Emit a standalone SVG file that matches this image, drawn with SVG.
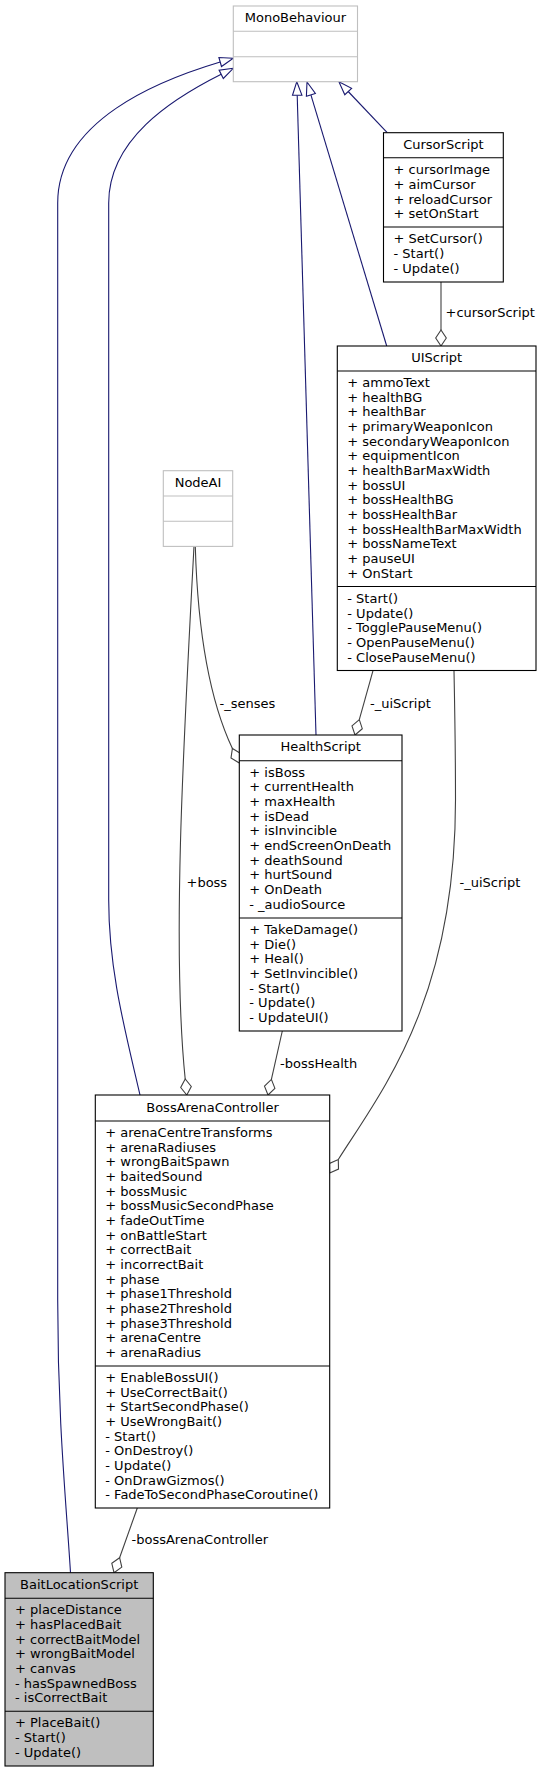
<svg xmlns="http://www.w3.org/2000/svg" width="541" height="1772" viewBox="0 0 541 1772">
<style>
text{font-family:"DejaVu Sans","Liberation Sans",sans-serif;font-size:13px;fill:#000}
.c{text-anchor:middle}
.box{fill:#fff;stroke:#000;stroke-width:1.1}
.ext{fill:#fff;stroke:#bfbfbf;stroke-width:1.1}
.grey{fill:#bfbfbf;stroke:#000;stroke-width:1.1}
.div{stroke:#000;stroke-width:1.1;fill:none}
.dive{stroke:#bfbfbf;stroke-width:1.1;fill:none}
.inh{fill:none;stroke:#191970;stroke-width:1.1}
.inha{fill:#fff;stroke:#191970;stroke-width:1.1}
.asc{fill:none;stroke:#404040;stroke-width:1.1}
.ascd{fill:#fff;stroke:#404040;stroke-width:1.1}
</style>
<rect width="541" height="1772" fill="#fff"/>
<g id="connectors">
<path class="inh" d="M70.5,1572.7 C66,1500 57.7,1420 57.7,1300 L57.7,203 C57.7,120 160,80 220.2,62"/>
<polygon class="inha" points="233.3,58.3 218.9,57.5 221.5,66.5"/>
<path class="inh" d="M140,1095 C125,1030 108.7,970 108.7,900 L108.7,203 C108.7,140 170,100 221.2,74.3"/>
<polygon class="inha" points="233.3,68.3 219.1,70.1 223.3,78.5"/>
<path class="inh" d="M316,735 L297.2,95.2"/>
<polygon class="inha" points="296.8,81.7 301.9,95.1 292.5,95.3"/>
<path class="inh" d="M386.7,346 L310.9,94.9"/>
<polygon class="inha" points="307,82 315.4,93.5 306.4,96.3"/>
<path class="inh" d="M387.2,132.7 L348.2,91.5"/>
<polygon class="inha" points="338.9,81.7 351.6,88.3 344.8,94.7"/>
<path class="asc" d="M441,282 L441,330"/>
<polygon class="ascd" points="441,346 446.3,338 441,330 435.7,338"/>
<text x="445.5" y="317">+cursorScript</text>
<path class="asc" d="M373,670.7 L359.3,719.6"/>
<polygon class="ascd" points="355,735 362.3,728.7 359.3,719.6 352,725.9"/>
<text x="370" y="707.5">-_uiScript</text>
<path class="asc" d="M454,671 C455,720 455.5,760 455.5,800 C455.5,1000 381,1092 338.3,1159.5"/>
<polygon class="ascd" points="329.7,1173 338.5,1169.1 338.3,1159.5 329.5,1163.4"/>
<text x="459.5" y="887">-_uiScript</text>
<path class="asc" d="M195.3,546.7 C198,640 211.1,703.3 232.4,748.5"/>
<polygon class="ascd" points="239.3,763 240.7,753.5 232.4,748.5 231,757.9"/>
<text x="219.5" y="707.5">-_senses</text>
<path class="asc" d="M194,546.3 C183,750 172,950 185.2,1079"/>
<polygon class="ascd" points="186.8,1095 191.3,1086.5 185.2,1079 180.7,1087.5"/>
<text x="186.5" y="887">+boss</text>
<path class="asc" d="M282.3,1031 L271.4,1079.4"/>
<polygon class="ascd" points="268,1095 274.9,1088.3 271.4,1079.4 264.5,1086.1"/>
<text x="280" y="1068">-bossHealth</text>
<path class="asc" d="M137.3,1508 L119.6,1557.7"/>
<polygon class="ascd" points="114,1572.7 121.8,1567.1 119.6,1557.7 111.8,1563.3"/>
<text x="131.5" y="1544">-bossArenaController</text>
</g>
<g id="MonoBehaviour">
<rect class="ext" x="233.3" y="6" width="124.2" height="75.7"/>
<path class="dive" d="M233.3,31.3 H357.5 M233.3,56.7 H357.5"/>
<text class="c" x="295.4" y="22.3">MonoBehaviour</text>
</g>
<g id="CursorScript">
<rect class="box" x="383.5" y="132.7" width="119.8" height="149.3"/>
<path class="div" d="M383.5,157.8 H503.3 M383.5,227 H503.3"/>
<text class="c" x="443.4" y="149">CursorScript</text>
<text x="393.5" y="174.3">+ cursorImage</text>
<text x="393.5" y="189">+ aimCursor</text>
<text x="393.5" y="203.6">+ reloadCursor</text>
<text x="393.5" y="218.3">+ setOnStart</text>
<text x="393.5" y="243.3">+ SetCursor()</text>
<text x="393.5" y="258">- Start()</text>
<text x="393.5" y="272.6">- Update()</text>
</g>
<g id="UIScript">
<rect class="box" x="337.3" y="346" width="198.7" height="324.5"/>
<path class="div" d="M337.3,371 H536 M337.3,586.5 H536"/>
<text class="c" x="436.7" y="362">UIScript</text>
<text x="347.3" y="387">+ ammoText</text>
<text x="347.3" y="401.7">+ healthBG</text>
<text x="347.3" y="416.3">+ healthBar</text>
<text x="347.3" y="431">+ primaryWeaponIcon</text>
<text x="347.3" y="445.7">+ secondaryWeaponIcon</text>
<text x="347.3" y="460.3">+ equipmentIcon</text>
<text x="347.3" y="475">+ healthBarMaxWidth</text>
<text x="347.3" y="489.7">+ bossUI</text>
<text x="347.3" y="504.4">+ bossHealthBG</text>
<text x="347.3" y="519">+ bossHealthBar</text>
<text x="347.3" y="533.7">+ bossHealthBarMaxWidth</text>
<text x="347.3" y="548.4">+ bossNameText</text>
<text x="347.3" y="563">+ pauseUI</text>
<text x="347.3" y="577.7">+ OnStart</text>
<text x="347.3" y="603">- Start()</text>
<text x="347.3" y="617.7">- Update()</text>
<text x="347.3" y="632.3">- TogglePauseMenu()</text>
<text x="347.3" y="647">- OpenPauseMenu()</text>
<text x="347.3" y="661.7">- ClosePauseMenu()</text>
</g>
<g id="NodeAI">
<rect class="ext" x="163.3" y="470.7" width="69.4" height="75.7"/>
<path class="dive" d="M163.3,496 H232.7 M163.3,521.3 H232.7"/>
<text class="c" x="198" y="487.2">NodeAI</text>
</g>
<g id="HealthScript">
<rect class="box" x="239.3" y="735" width="162.7" height="296"/>
<path class="div" d="M239.3,760.7 H402 M239.3,918 H402"/>
<text class="c" x="320.7" y="751.3">HealthScript</text>
<text x="249.3" y="776.7">+ isBoss</text>
<text x="249.3" y="791.4">+ currentHealth</text>
<text x="249.3" y="806">+ maxHealth</text>
<text x="249.3" y="820.7">+ isDead</text>
<text x="249.3" y="835.4">+ isInvincible</text>
<text x="249.3" y="850">+ endScreenOnDeath</text>
<text x="249.3" y="864.7">+ deathSound</text>
<text x="249.3" y="879.4">+ hurtSound</text>
<text x="249.3" y="894">+ OnDeath</text>
<text x="249.3" y="908.7">- _audioSource</text>
<text x="249.3" y="934">+ TakeDamage()</text>
<text x="249.3" y="948.7">+ Die()</text>
<text x="249.3" y="963.3">+ Heal()</text>
<text x="249.3" y="978">+ SetInvincible()</text>
<text x="249.3" y="992.7">- Start()</text>
<text x="249.3" y="1007.3">- Update()</text>
<text x="249.3" y="1022">- UpdateUI()</text>
</g>
<g id="BossArenaController">
<rect class="box" x="95.3" y="1095" width="234.4" height="413"/>
<path class="div" d="M95.3,1121 H329.7 M95.3,1366 H329.7"/>
<text class="c" x="212.5" y="1111.5">BossArenaController</text>
<text x="105.3" y="1137">+ arenaCentreTransforms</text>
<text x="105.3" y="1151.7">+ arenaRadiuses</text>
<text x="105.3" y="1166.3">+ wrongBaitSpawn</text>
<text x="105.3" y="1181">+ baitedSound</text>
<text x="105.3" y="1195.7">+ bossMusic</text>
<text x="105.3" y="1210.3">+ bossMusicSecondPhase</text>
<text x="105.3" y="1225">+ fadeOutTime</text>
<text x="105.3" y="1239.7">+ onBattleStart</text>
<text x="105.3" y="1254.4">+ correctBait</text>
<text x="105.3" y="1269">+ incorrectBait</text>
<text x="105.3" y="1283.7">+ phase</text>
<text x="105.3" y="1298.4">+ phase1Threshold</text>
<text x="105.3" y="1313">+ phase2Threshold</text>
<text x="105.3" y="1327.7">+ phase3Threshold</text>
<text x="105.3" y="1342.4">+ arenaCentre</text>
<text x="105.3" y="1357">+ arenaRadius</text>
<text x="105.3" y="1382">+ EnableBossUI()</text>
<text x="105.3" y="1396.7">+ UseCorrectBait()</text>
<text x="105.3" y="1411.3">+ StartSecondPhase()</text>
<text x="105.3" y="1426">+ UseWrongBait()</text>
<text x="105.3" y="1440.7">- Start()</text>
<text x="105.3" y="1455.3">- OnDestroy()</text>
<text x="105.3" y="1470">- Update()</text>
<text x="105.3" y="1484.7">- OnDrawGizmos()</text>
<text x="105.3" y="1499.4">- FadeToSecondPhaseCoroutine()</text>
</g>
<g id="BaitLocationScript">
<rect class="grey" x="5" y="1572.7" width="148.3" height="193.3"/>
<path class="div" d="M5,1598.3 H153.3 M5,1711.3 H153.3"/>
<text class="c" x="79.2" y="1589">BaitLocationScript</text>
<text x="15" y="1614.3">+ placeDistance</text>
<text x="15" y="1629">+ hasPlacedBait</text>
<text x="15" y="1643.7">+ correctBaitModel</text>
<text x="15" y="1658.3">+ wrongBaitModel</text>
<text x="15" y="1673">+ canvas</text>
<text x="15" y="1687.7">- hasSpawnedBoss</text>
<text x="15" y="1702.3">- isCorrectBait</text>
<text x="15" y="1727.3">+ PlaceBait()</text>
<text x="15" y="1742">- Start()</text>
<text x="15" y="1756.7">- Update()</text>
</g>
</svg>
